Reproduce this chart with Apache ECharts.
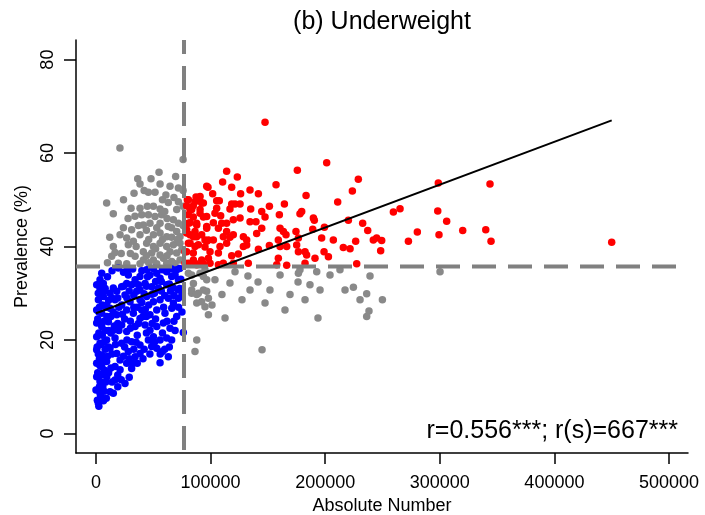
<!DOCTYPE html>
<html>
<head>
<meta charset="utf-8">
<script src="https://cdn.jsdelivr.net/npm/echarts@6/dist/echarts.min.js"></script>
<style>html,body{margin:0;padding:0;background:#fff;}#c{width:705px;height:515px;}</style>
</head>
<body>
<div id="c"></div>
<script>
// ---- data (Absolute Number, Prevalence %) ----
const xTicks = [0, 100000, 200000, 300000, 400000, 500000];
const yTicks = [0, 20, 40, 60, 80];
const refX = [76800];      // vertical reference (absolute number)
const refY = [35.7];       // horizontal reference (prevalence)
const fitX = [0, 450000];
const fitY = [25.7, 67.0];

const blueData = [
[5000,34.3],[3500,32.9],[6400,32.1],[19500,35.4],[28200,33.9],[34100,32.9],[38400,33.6],[44200,35.0],[47100,33.9],[53000,34.3],[55900,33.2],[61700,34.6],[66100,33.6],[70400,35.0],[71900,32.9],[69000,33.9],
[600,31.8],[15100,31.1],[22400,31.4],[26800,32.1],[31100,31.8],[38400,30.7],[42800,32.1],[48600,31.4],[54400,31.1],[61700,31.8],[67500,31.1],[71900,30.7],[12200,30.0],[18100,30.4],[35500,30.4],
[2100,28.6],[6400,29.3],[16600,28.6],[25300,29.6],[29700,28.2],[38400,28.6],[44200,29.3],[50100,28.2],[55900,28.6],[63100,28.9],[67500,27.9],[71900,28.9],[9300,27.5],[22400,27.5],
[600,26.4],[5000,25.7],[12200,26.8],[18100,25.4],[26800,26.4],[32600,25.7],[39900,26.4],[47100,25.4],[53000,26.4],[60200,25.7],[66100,26.8],[70400,25.0],[38400,24.6],
[600,23.6],[5000,22.9],[10800,23.9],[15100,22.1],[22400,23.2],[26800,21.8],[34100,22.9],[42800,23.2],[47100,22.1],[53000,22.9],[58800,23.6],[64600,22.5],[50100,20.7],[55900,20.0],[61700,20.4],[76200,21.6],
[600,20.7],[3500,19.3],[9300,20.0],[16600,20.4],[22400,19.3],[31100,19.6],[38400,18.9],[45700,20.0],[48600,18.6],[53000,18.2],
[600,17.9],[5000,16.8],[12200,18.2],[18100,17.1],[21000,15.7],[28200,17.5],[34100,16.4],[38400,17.1],[63100,16.4],[55900,15.1],
[600,15.0],[5000,14.3],[9300,15.4],[16600,14.3],[21000,13.6],[26800,15.0],[31100,13.9],
[600,12.1],[3500,11.1],[9300,12.1],[16600,11.4],[25300,10.7],
[0,9.3],[3500,8.6],[1200,7.1],[12200,8.9],[15100,8.6],
[2000,6.5],[3000,10.0],[1500,13.0],[3000,16.0],[1000,18.5],[2500,21.5],[1500,24.5],[3000,27.0],[2000,30.0],[4000,8.0],[4500,12.5],[4000,19.0],[5500,21.0],[7000,24.0],[8000,18.0],[7500,13.5],[6000,10.0],[10000,16.5],[11000,22.0],[13000,25.0],[14000,29.0],[20000,27.0],[23000,25.5],[27000,29.0],[30000,24.0],[33000,27.0],[36000,21.0],[41000,25.0],[44000,31.5],[46000,27.5],[51000,30.0],[57000,30.5],[59000,27.0],[62000,24.0],[65000,30.5],[68000,24.0],[72000,27.0],[74000,33.0],[75000,29.5],[44000,21.5],[33000,18.0],[27000,20.0],[20000,22.0],[19000,12.5],[13000,14.0],[8500,11.0],[6500,7.0],[24000,16.5],[29000,12.0],[36000,15.0],[41000,16.0],[47000,17.0],[58000,17.5],[52000,24.5],[64000,18.5],[10000,33.5],[14000,34.8],[24000,34.5],[32000,35.2],[50000,35.3],[58000,35.0],[66000,35.2],[73000,35.3],[37000,31.8],[42000,29.9],[16000,23.0],[9000,27.0],[4500,29.5],
[8000,31.0],[11000,28.5],[15000,26.0],[19000,29.0],[24000,31.5],[29000,30.5],[33000,29.5],[36000,27.0],[40000,28.0],[43000,26.5],[49000,29.8],[52000,32.5],[57000,32.5],[60000,29.5],[64000,32.0],[68000,29.5],[73000,31.0],[75000,26.0],[69000,22.0],[66000,20.0],[58000,21.5],[49000,23.5],[44000,25.0],[37000,23.5],[30000,22.5],[25000,24.5],[19000,23.5],[13000,21.5],[8000,22.0],[7000,19.5],[11000,18.5],[14000,17.0],[17000,19.0],[25000,18.5],[29000,16.0],[32000,15.0],[35000,19.5],[42000,18.0],[51000,19.5],[56000,17.0],[60000,18.0],[6000,15.5],[11000,13.0],[14000,11.0],[19000,10.0],[22000,11.5],[7000,9.0],[9000,7.5],[2500,5.8],[3500,14.5],[2000,17.0],[4000,23.5],[2500,26.0],[5500,27.5],[7500,30.5],[3500,31.0],[9500,25.0],[27000,34.8],[40000,34.8],[62000,35.2],[45000,33.5]
];

const grayData = [
[76000,58.6],[55000,55.9],[69500,55.0],[36400,54.5],[38400,53.4],[55900,53.4],[64600,52.9],[71900,52.5],[33200,51.4],[45700,51.6],[51500,51.6],[9300,49.3],[63100,49.4],[71900,49.6],[15100,47.0],[30600,48.2],[38400,48.2],[44800,48.6],[50100,48.6],[55900,48.0],[70400,47.9],[39900,46.8],[45700,46.8],[51500,46.4],[57300,46.8],[67500,45.7],[71900,45.0],[23900,44.0],[31100,43.6],[41300,44.6],[47100,45.0],[55900,45.0],[63100,44.3],[38400,42.5],[50100,42.5],[55900,42.9],[61700,42.1],[70400,43.2],[73300,42.1],[26800,41.8],[32600,41.1],[15100,40.0],[28200,40.4],[13700,37.9],[16600,38.7],[44200,40.7],[50100,40.0],[55900,40.7],[61700,40.0],[67500,40.4],[41300,38.9],[48600,38.6],[55900,38.2],[64600,38.9],[70400,38.6],[74800,39.3],[34100,37.9],[41300,37.1],[50100,37.1],[58800,37.5],[66100,36.8],[73300,37.1],[19500,36.4],[26800,36.3],[38400,36.3],[53000,36.3],[61700,36.4],[73300,40.7],[76000,44.5],[76000,48.6],[76000,52.0],[20900,61.1],
[28000,46.0],[44000,43.5],[60000,47.5],[66000,42.0],[35000,40.0],[22000,38.5],[46000,36.5],[69000,36.3],[10000,36.5],
[24000,50.0],[42000,52.0],[48000,54.5],[61000,51.0],[68000,50.5],[58000,50.0],[34000,46.5],[62000,46.0],[53000,44.0],[37000,44.5],[66000,44.0],[46000,41.5],[58000,41.5],[21000,42.5],[30000,38.5],[12000,42.0],[52000,39.5],[62000,38.0],[71000,41.5],[44000,38.0],
[85000,32.1],[83500,30.0],[89300,30.0],[96600,30.4],[87900,27.9],[92200,28.2],[95100,27.1],[98100,25.4],[87900,20.0],[86400,17.5],[80600,34.3],[93700,33.6],[239100,33.7],[224600,31.3],[236200,29.9],[249900,28.6],[238200,26.2],[236200,25.0],[300200,34.6],[176600,34.3],[192600,34.6],[103800,32.9],[109900,29.7],[116900,32.2],[127400,28.6],[134400,30.7],[141400,32.4],[151800,30.7],[160600,33.9],[169300,29.7],[176300,32.4],[182400,28.6],[195500,30.7],[204200,33.9],[217300,30.7],[230400,28.6],[144900,17.9],[193700,24.7],[95100,35.0],[101200,27.5],[121300,34.6],[132600,33.7],[147500,27.9],[164900,26.4],[112600,24.7],[178000,35.0],[186700,31.8],[212900,35.0],[83500,33.9],[90800,34.3],[96600,32.9],[83500,30.7],[87900,29.7],[93700,30.7],[98100,28.9]
];

const redData = [
[147500,66.6],[201300,57.9],[175700,56.3],[114000,56.1],[123300,54.9],[110500,53.8],[228900,54.4],[157100,53.2],[118400,52.7],[97700,52.7],[223700,51.9],[134400,52.1],[101800,51.3],[126200,51.3],[141700,51.3],[183300,50.9],[79700,50.0],[87300,50.6],[90200,50.0],[92200,49.3],[105300,49.8],[107600,49.8],[118400,49.1],[121300,49.1],[125700,49.1],[164400,49.1],[210900,49.5],[151300,48.6],[79100,48.7],[84900,48.7],[82000,47.9],[90800,47.9],[105300,48.2],[103800,47.1],[116900,48.0],[135000,48.0],[144600,47.5],[179500,47.5],[178000,47.0],[80600,46.8],[84900,46.3],[93700,46.3],[108800,46.6],[147500,46.3],[160000,46.8],[189700,46.1],[190500,45.6],[125700,46.1],[134400,45.3],[139600,45.3],[82000,45.1],[87800,45.0],[102400,45.1],[109700,45.0],[114000,45.0],[119800,45.7],[160600,43.9],[163500,43.2],[199300,44.1],[232700,45.0],[79100,43.6],[86400,43.2],[96600,44.3],[106800,43.9],[114000,43.2],[119800,42.5],[128600,42.1],[144600,43.9],[189100,43.7],[174500,43.2],[237100,43.4],[82000,42.5],[87800,42.1],[95100,41.4],[102400,41.4],[111100,42.1],[116900,42.0],[140200,42.8],[165800,42.5],[176600,41.8],[80600,40.7],[86400,40.0],[96600,41.1],[108200,40.0],[114000,40.7],[128600,40.0],[131500,40.3],[159100,41.4],[160600,40.0],[166400,40.0],[196900,41.8],[207100,41.4],[226600,41.1],[242000,41.4],[244900,41.8],[215800,39.8],[221700,39.5],[141700,39.4],[151300,40.2],[175100,40.3],[176600,38.9],[182400,38.9],[183800,38.2],[118400,38.0],[124200,38.4],[106800,38.6],[99500,38.9],[84900,38.6],[77700,38.9],[191100,37.5],[202800,37.8],[199000,38.9],[159100,37.5],[77700,36.4],[86400,36.4],[93700,36.3],[99500,36.4],[106800,36.1],[111100,36.4],[119800,36.4],[132900,36.4],[157700,36.1],[166400,36.0],[182400,36.4],[227500,36.3],[131500,41.4],
[259500,47.4],[265300,48.1],[272600,41.1],[280400,43.1],[298700,53.6],[298200,47.6],[299300,42.5],[306000,45.4],[320000,43.4],[340100,43.6],[343800,53.4],[344700,41.1],[450000,40.9],[249300,41.3],[248400,39.1],[220200,45.6],
[96600,52.9],[90800,50.7],[80600,50.0],[86400,49.6],[93700,49.3],[83500,47.9],[90800,47.1],[96600,46.4],[80600,45.0],[87900,44.6],[96600,43.9],[79100,42.9],[92200,42.5],[85000,42.1],[98100,41.4],[82100,40.7],[89300,40.4],[95100,39.9],[79100,38.9],[85000,37.1],[92200,37.1],[98100,37.5],[80600,36.4],[87900,36.1]
];

// ---- chart ----
const X_MIN = -17450, X_MAX = 516580, Y_MIN = -4.2, Y_MAX = 84.2;
const FONT = 'Liberation Sans, Arial, Helvetica, sans-serif';
const chart = echarts.init(document.getElementById('c'), null, {renderer: 'canvas'});
const axisCol = '#000';
const ptSize = 7.5;
const scatter = (data, color) => ({
  type: 'scatter', data: data, symbolSize: ptSize, silent: true,
  itemStyle: {color: color, opacity: 1}, emphasis: {disabled: true}
});
chart.setOption({
  animation: false,
  backgroundColor: '#fff',
  title: [
    {text: '(b) Underweight', left: 382, top: 10, textAlign: 'center', padding: 0,
     textStyle: {fontFamily: FONT, fontSize: 25, fontWeight: 'normal', color: '#000'}},
    {text: 'r=0.556***; r(s)=667***', right: 27, top: 419, padding: 0,
     textStyle: {fontFamily: FONT, fontSize: 25, fontWeight: 'normal', color: '#000'}}
  ],
  grid: {left: 76, right: 17, top: 40, bottom: 62, containLabel: false, outerBoundsMode: 'none'},
  xAxis: {
    type: 'value', min: X_MIN, max: X_MAX,
    axisLine: {show: true, onZero: false, lineStyle: {color: axisCol, width: 1.5}},
    axisTick: {show: true, customValues: xTicks, length: 11, lineStyle: {color: axisCol, width: 1.5}},
    axisLabel: {customValues: xTicks, formatter: v => String(v), fontFamily: FONT, fontSize: 18, color: '#000', margin: 21},
    splitLine: {show: false},
    name: 'Absolute Number', nameLocation: 'middle', nameGap: 40,
    nameTextStyle: {fontFamily: FONT, fontSize: 18, color: '#000'}
  },
  yAxis: {
    type: 'value', min: Y_MIN, max: Y_MAX,
    axisLine: {show: true, onZero: false, lineStyle: {color: axisCol, width: 1.5}},
    axisTick: {show: true, customValues: yTicks, length: 12, lineStyle: {color: axisCol, width: 1.5}},
    axisLabel: {customValues: yTicks, formatter: v => String(v), rotate: 90, fontFamily: FONT, fontSize: 18, color: '#000', margin: 19},
    splitLine: {show: false},
    name: 'Prevalence (%)', nameLocation: 'middle', nameGap: 42,
    nameTextStyle: {fontFamily: FONT, fontSize: 18, color: '#000'}
  },
  series: [
    scatter(grayData, '#898989'),
    scatter(blueData, '#0000ff'),
    scatter(redData, '#ff0000'),
    {type: 'line', data: [[fitX[0], fitY[0]], [fitX[1], fitY[1]]], symbol: 'none', silent: true,
     lineStyle: {color: '#000', width: 2}, z: 5},
    {type: 'line', data: [[refX[0], Y_MAX], [refX[0], Y_MIN]], symbol: 'none', silent: true,
     lineStyle: {color: '#808080', width: 4, type: [24, 12], dashOffset: 10}, z: 4},
    {type: 'line', data: [[X_MIN, refY[0]], [X_MAX, refY[0]]], symbol: 'none', silent: true,
     lineStyle: {color: '#808080', width: 4, type: [24, 12], dashOffset: 0}, z: 4}
  ]
});
</script>
</body>
</html>
